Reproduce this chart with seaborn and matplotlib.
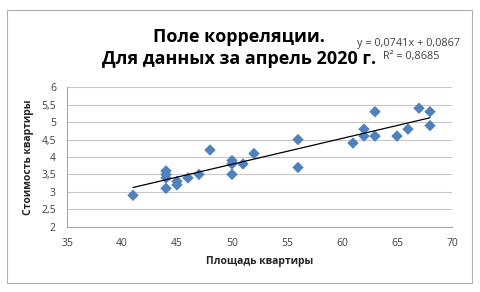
import matplotlib
matplotlib.use('Agg')
import matplotlib.pyplot as plt
import numpy as np
import pandas as pd
import seaborn as sns
from matplotlib.patches import Rectangle

# площадь квартиры / стоимость квартиры (апрель 2020)
area = [41, 44, 44, 44, 44, 45, 45, 46, 47, 48, 50, 50, 50, 51, 52, 56, 56,
        61, 62, 62, 63, 63, 65, 66, 67, 68, 68]
price = [2.9, 3.6, 3.5, 3.4, 3.1, 3.3, 3.2, 3.4, 3.5, 4.2, 3.9, 3.8, 3.5, 3.8, 4.1, 4.5, 3.7,
         4.4, 4.8, 4.6, 5.3, 4.6, 4.6, 4.8, 5.4, 5.3, 4.9]
slope, intercept = 0.0741, 0.0867
r2 = 0.8685
x_ticks = [35, 40, 45, 50, 55, 60, 65, 70]
y_ticks = [2, 2.5, 3, 3.5, 4, 4.5, 5, 5.5, 6]

df = pd.DataFrame({'area': area, 'price': price})

sns.set_style('white')
plt.rcParams['font.family'] = ['Open Sans', 'DejaVu Sans']

fig = plt.figure(figsize=(4.8, 2.92), dpi=100)
ax = fig.add_axes([67 / 480, 1 - 226.7 / 292, (452 - 67) / 480, (226.7 - 87.3) / 292])

sns.scatterplot(data=df, x='area', y='price', marker='D', s=34, color='#4F81BD',
                edgecolor='none', ax=ax, zorder=3)

# линия тренда
xs = np.array([min(area), max(area)])
ax.plot(xs, slope * xs + intercept, color='black', lw=0.9, zorder=4)

ax.set_xlim(35, 70)
ax.set_ylim(2, 6)
ax.set_xticks(x_ticks)
ax.set_yticks(y_ticks)
ax.set_yticklabels([f'{v:g}'.replace('.', ',') for v in y_ticks])
ax.tick_params(length=0, labelsize=7.5, colors='#404040')
ax.tick_params(axis='y', pad=8)
ax.tick_params(axis='x', pad=8)
ax.grid(axis='y', color='#C8C8C8', lw=0.8)
ax.set_axisbelow(True)
for side in ['top', 'right']:
    ax.spines[side].set_visible(False)
for side in ['left', 'bottom']:
    ax.spines[side].set_color('#A6A6A6')
    ax.spines[side].set_linewidth(0.8)

ax.set_xlabel('Площадь квартиры', fontsize=7.5, fontweight='bold', color='#262626')
ax.set_ylabel('Стоимость квартиры', fontsize=7.5, fontweight='bold', color='#262626')
ax.xaxis.set_label_coords(0.5, -0.253)
ax.xaxis.label.set_va('center')
ax.yaxis.set_label_coords((29 - 67) / 385, 0.5)
ax.yaxis.label.set_va('center')

fig.text(239 / 480, 1 - 41.5 / 292, 'Поле корреляции.', ha='center', va='baseline',
         fontsize=13, fontweight='bold', color='black')
fig.text(239.5 / 480, 1 - 64 / 292, 'Для данных за апрель 2020 г.', ha='center', va='baseline',
         fontsize=13, fontweight='bold', color='black')

fig.text(357 / 480, 1 - 46 / 292, f'y = {slope:.4f}x + {intercept:.4f}'.replace('.', ','),
         ha='left', va='baseline', fontsize=7.8, color='#404040')
fig.text(383 / 480, 1 - 59 / 292, f'R² = {r2:.4f}'.replace('.', ','),
         ha='left', va='baseline', fontsize=7.8, color='#404040')

fig.patches.append(Rectangle((7 / 480, 1 - 283 / 292), 465 / 480, 273 / 292,
                             transform=fig.transFigure, fill=False,
                             edgecolor='#B0B0B0', lw=0.8))

fig.savefig('out.png', dpi=100)
